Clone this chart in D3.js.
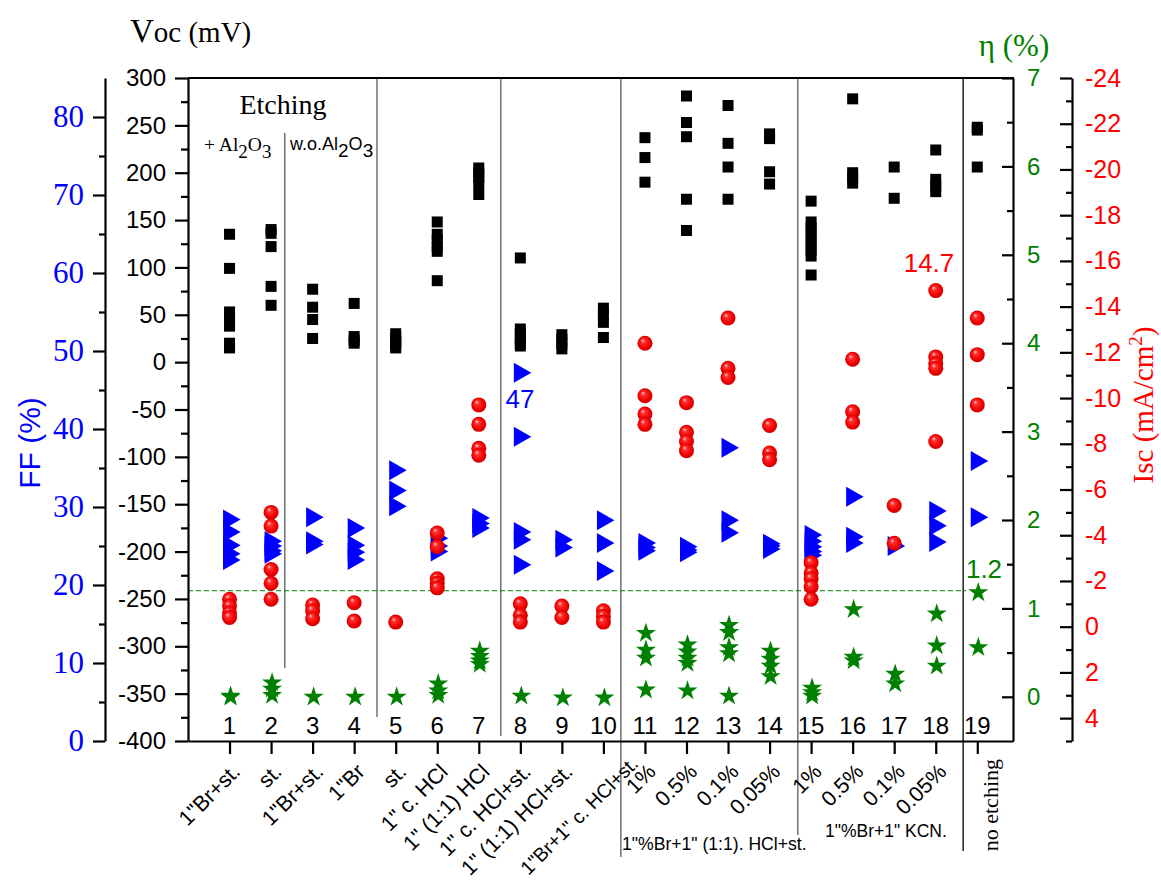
<!DOCTYPE html>
<html><head><meta charset="utf-8">
<script src="https://cdn.jsdelivr.net/npm/d3@7"></script>
<style>body{margin:0;background:#fff}</style>
</head><body><svg id="c" width="1161" height="882" xmlns="http://www.w3.org/2000/svg"></svg>
<script>
// ---------------- data ----------------
const categories = [1,2,3,4,5,6,7,8,9,10,11,12,13,14,15,16,17,18,19];
const xLabels = ['1"Br+st.','st.','1"Br+st.','1"Br','st.','1" c. HCl','1" (1:1) HCl','1" c. HCl+st.','1" (1:1) HCl+st.','1"Br+1" c. HCl+st.','1%','0.5%','0.1%','0.05%','1%','0.5%','0.1%','0.05%','no etching'];
const vocValues = [
  [135,99,53,46,38,20,15],
  [140,136,122,80,60],
  [77,58,45,25],
  [62,27,23,20],
  [30,26,22,18,15],
  [148,135,129,122,117,86],
  [205,200,195,188,177],
  [110,35,30,25,20,17],
  [29,24,19,14],
  [57,50,42,26],
  [237,216,190],
  [281,253,238,172,139],
  [271,231,206,172],
  [241,236,201,188],
  [170,148,142,136,130,124,118,112,92],
  [278,200,195,189],
  [206,173],
  [224,193,186,180],
  [248,245,206]
];
const ffValues = [
  [28.4,26.8,25.1,24.0,23.2],
  [25.6,25.0,24.4,24.0],
  [28.7,25.6,25.2],
  [27.3,25.1,24.2,23.2],
  [34.7,32.1,30.1],
  [26.0,25.0,24.3],
  [28.6,27.9,27.3],
  [47.2,39.0,26.8,25.8,22.6],
  [25.8,24.8],
  [28.3,25.4,21.8],
  [25.4,24.8,24.4],
  [24.9,24.5,24.2],
  [37.6,28.3,26.7],
  [25.3,25.0,24.6],
  [26.4,25.6,24.9,24.3,23.8],
  [31.3,26.2,25.4],
  [25.0],
  [29.5,27.6,25.5],
  [35.9,28.7]
];
const iscValues = [
  [-1.2,-0.9,-0.6,-0.4],
  [-5.0,-4.4,-2.5,-1.9,-1.2],
  [-0.95,-0.7,-0.35],
  [-1.05,-0.25],
  [-0.2],
  [-4.1,-3.5,-2.1,-1.9,-1.7],
  [-9.7,-8.85,-7.8,-7.5],
  [-1.0,-0.5,-0.2],
  [-0.9,-0.4],
  [-0.7,-0.45,-0.2],
  [-12.4,-10.1,-9.3,-8.85],
  [-9.8,-8.5,-8.1,-7.7],
  [-13.5,-11.3,-10.9],
  [-8.8,-7.6,-7.3],
  [-2.8,-2.35,-2.1,-1.75,-1.2],
  [-11.7,-9.4,-8.95],
  [-5.3,-3.65],
  [-14.7,-11.8,-11.5,-11.3,-8.1],
  [-13.5,-11.9,-9.7]
];
const etaValues = [
  [0.02,0.01],
  [0.17,0.10,0.03],
  [0.01],
  [0.01],
  [0.01],
  [0.16,0.08,0.03],
  [0.53,0.47,0.42,0.38],
  [0.02],
  [0.0],
  [0.0],
  [0.73,0.54,0.45,0.09],
  [0.60,0.52,0.45,0.39,0.08],
  [0.82,0.74,0.57,0.50,0.02],
  [0.53,0.44,0.36,0.24],
  [0.11,0.06,0.02],
  [1.0,0.46,0.42],
  [0.27,0.16],
  [0.95,0.59,0.36],
  [1.19,0.57]
];
const vocTicks = d3.range(-400, 301, 50);
const ffTicks = d3.range(0, 81, 10);
const etaTicks = d3.range(0, 8, 1);
const iscTicks = d3.range(-24, 5, 2);
const separators = [2.33, 4.55, 7.53, 10.42, 14.68, 18.66];
const etaRef = 1.2;

// ---------------- layout ----------------
const svg = d3.select('#c');
const L = 188, R = 1013, T = 78, B = 741;
const SANS = '"Liberation Sans", Arial, sans-serif';
const SERIF = '"Liberation Serif", "Times New Roman", serif';
const BLUE = '#0000ff', RED = '#ff0000', GREEN = '#008000';
const plain = d => String(d);

const x = d3.scaleLinear().domain([0, 19.86]).range([L, R]);
const yVoc = d3.scaleLinear().domain([-400, 300]).range([B, T]);
const yFF = d3.scaleLinear().domain([0, 85]).range([B, T]);
const yEta = d3.scaleLinear().domain([-0.5, 7]).range([B, T]);
const yIsc = d3.scaleLinear().domain([5, -24]).range([B, T]);

const defs = svg.append('defs');
const g = defs.append('radialGradient').attr('id','sph').attr('cx','50%').attr('cy','50%').attr('r','55%').attr('fx','35%').attr('fy','30%');
g.append('stop').attr('offset','0%').attr('stop-color','#ffd0d0');
g.append('stop').attr('offset','25%').attr('stop-color','#ff3030');
g.append('stop').attr('offset','70%').attr('stop-color','#f00000');
g.append('stop').attr('offset','100%').attr('stop-color','#c00000');

// separators
svg.append('g').selectAll('line').data(separators).join('line')
  .attr('x1', d => x(d)).attr('x2', d => x(d))
  .attr('y1', (d,i) => [133, T, T, T, T, T][i])
  .attr('y2', (d,i) => [668, 717, 736, 857, 835, 851][i])
  .attr('stroke', (d,i) => i === 5 ? '#111' : '#666').attr('stroke-width', 1.4);

// dashed ref line
svg.append('line').attr('x1', L).attr('x2', 966).attr('y1', yEta(etaRef)).attr('y2', yEta(etaRef))
  .attr('stroke', GREEN).attr('stroke-width', 1).attr('stroke-dasharray', '5,3');

function styleAxis(sel, color){
  sel.selectAll('path,line').attr('stroke', '#000').attr('stroke-width', 2.2);
  sel.selectAll('text').attr('fill', color);
}

// Voc axis
const aV = svg.append('g').attr('transform', `translate(${L},0)`)
  .call(d3.axisLeft(yVoc).tickValues(vocTicks).tickFormat(plain).tickSize(13).tickSizeOuter(0).tickPadding(9));
aV.selectAll('text').attr('font-family', SANS).attr('font-size', 24);
styleAxis(aV, '#000');
const aVm = svg.append('g').attr('transform', `translate(${L},0)`)
  .call(d3.axisLeft(yVoc).tickValues(d3.range(-375, 300, 50)).tickSize(7).tickFormat(''));
aVm.select('.domain').remove(); styleAxis(aVm, '#000');

// FF axis
const aF = svg.append('g').attr('transform', `translate(105,0)`)
  .call(d3.axisLeft(yFF).tickValues(ffTicks).tickFormat(plain).tickSize(12).tickSizeOuter(0).tickPadding(9));
aF.selectAll('text').attr('font-family', SERIF).attr('font-size', 31);
styleAxis(aF, BLUE);
const aFm = svg.append('g').attr('transform', `translate(105,0)`)
  .call(d3.axisLeft(yFF).tickValues(d3.range(5, 80, 10)).tickSize(6).tickFormat(''));
aFm.select('.domain').remove(); styleAxis(aFm, '#000');

// eta axis (right frame)
const aE = svg.append('g').attr('transform', `translate(${R},0)`)
  .call(d3.axisRight(yEta).tickValues(etaTicks).tickFormat(plain).tickSize(-11).tickSizeOuter(0).tickPadding(14));
aE.selectAll('text').attr('font-family', SANS).attr('font-size', 24);
styleAxis(aE, GREEN);
const aEm = svg.append('g').attr('transform', `translate(${R},0)`)
  .call(d3.axisRight(yEta).tickValues(d3.range(0.5, 7, 1)).tickSize(-6).tickFormat(''));
aEm.select('.domain').remove(); styleAxis(aEm, '#000');

// Isc axis
const aI = svg.append('g').attr('transform', `translate(1072,0)`)
  .call(d3.axisRight(yIsc).tickValues(iscTicks).tickFormat(plain).tickSize(-12).tickSizeOuter(0).tickPadding(13));
aI.selectAll('text').attr('font-family', SANS).attr('font-size', 25);
styleAxis(aI, RED);
const aIm = svg.append('g').attr('transform', `translate(1072,0)`)
  .call(d3.axisRight(yIsc).tickValues(d3.range(-23, 6, 2)).tickSize(-6).tickFormat(''));
aIm.select('.domain').remove(); styleAxis(aIm, '#000');

// bottom axis + top line
const aX = svg.append('g').attr('transform', `translate(0,${B})`)
  .call(d3.axisBottom(x).tickValues(categories).tickSize(13).tickSizeOuter(0).tickFormat(''));
styleAxis(aX, '#000');
svg.append('line').attr('x1', L).attr('x2', R + 1).attr('y1', T).attr('y2', T).attr('stroke', '#000').attr('stroke-width', 2.2);

// category numbers inside plot
svg.append('g').selectAll('text').data(categories).join('text')
  .attr('x', d => x(d)).attr('y', 734).attr('text-anchor', 'middle')
  .attr('font-family', SANS).attr('font-size', 24).attr('fill', '#000').text(d => d);

// rotated labels
svg.append('g').selectAll('text').data(xLabels.slice(0, 18)).join('text')
  .attr('transform', (d,i) => `translate(${x(categories[i]) + 12 + (i === 9 ? 24 : 0)},${773 + (i === 9 ? -8 : 0)}) rotate(-45)`)
  .attr('text-anchor', 'end').attr('font-family', SANS).attr('font-size', (d,i) => i === 9 ? 19.5 : 21.5).attr('fill', '#000')
  .text(d => d);
svg.append('text').attr('transform', `translate(${x(19) + 21},759) rotate(-90)`)
  .attr('text-anchor', 'end').attr('font-family', SERIF).attr('font-size', 22).text(xLabels[18]);

// group captions
svg.append('text').attr('x', 622).attr('y', 850).attr('font-family', SANS).attr('font-size', 17.6).text('1"%Br+1" (1:1). HCl+st.');
svg.append('text').attr('x', 825).attr('y', 837).attr('font-family', SANS).attr('font-size', 17.5).text('1"%Br+1" KCN.');

// marks
const sq = svg.append('g');
vocValues.forEach((arr, i) => {
  sq.selectAll(null).data(arr).join('rect')
    .attr('x', d => x(categories[i]) - 5.5).attr('y', d => yVoc(d) - 5.5)
    .attr('width', 11).attr('height', 11).attr('fill', '#000');
});
const tri = svg.append('g');
ffValues.forEach((arr, i) => {
  tri.selectAll(null).data(arr).join('path')
    .attr('d', 'M-7.5,-10L-7.5,10L10,0Z')
    .attr('transform', d => `translate(${x(categories[i]) + 1},${yFF(d)})`)
    .attr('fill', BLUE);
});
const sph = svg.append('g');
iscValues.forEach((arr, i) => {
  sph.selectAll(null).data(arr).join('circle')
    .attr('cx', x(categories[i])).attr('cy', d => yIsc(d)).attr('r', 7.5)
    .attr('fill', 'url(#sph)');
});
const star = d3.symbol(d3.symbolStar, 125);
const st = svg.append('g');
etaValues.forEach((arr, i) => {
  st.selectAll(null).data(arr).join('path')
    .attr('d', star).attr('transform', d => `translate(${x(categories[i]) + 1},${yEta(d) + 1})`)
    .attr('fill', GREEN);
});

// annotations
svg.append('text').attr('x', 520).attr('y', 408).attr('text-anchor', 'middle').attr('font-family', SANS).attr('font-size', 26).attr('fill', BLUE).text('47');
svg.append('text').attr('x', 929).attr('y', 272).attr('text-anchor', 'middle').attr('font-family', SANS).attr('font-size', 26).attr('fill', RED).text('14.7');
svg.append('text').attr('x', 984).attr('y', 578).attr('text-anchor', 'middle').attr('font-family', SANS).attr('font-size', 26).attr('fill', GREEN).text('1.2');

// inner titles
svg.append('text').attr('x', 283).attr('y', 114).attr('text-anchor', 'middle').attr('font-family', SERIF).attr('font-size', 28).text('Etching');
const t1 = svg.append('text').attr('x', 204).attr('y', 151).attr('font-family', SERIF).attr('font-size', 19.5);
t1.append('tspan').text('+ Al');
t1.append('tspan').attr('dy', 7).attr('font-size', 19).text('2');
t1.append('tspan').attr('dy', -7).text('O');
t1.append('tspan').attr('dy', 7).attr('font-size', 19).text('3');
const t2 = svg.append('text').attr('x', 290).attr('y', 150).attr('font-family', SANS).attr('font-size', 18);
t2.append('tspan').text('w.o.Al');
t2.append('tspan').attr('dy', 7).attr('font-size', 19).text('2');
t2.append('tspan').attr('dy', -7).text('O');
t2.append('tspan').attr('dy', 7).attr('font-size', 19).text('3');

// axis titles
const tv = svg.append('text').attr('x', 130).attr('y', 42).attr('font-family', SERIF).attr('font-size', 29);
tv.append('tspan').attr('font-size', 33).text('V');
tv.append('tspan').text('oc (mV)');
svg.append('text').attr('transform', 'translate(40,443) rotate(-90)').attr('text-anchor', 'middle')
  .attr('font-family', SANS).attr('font-size', 30).attr('fill', BLUE).text('FF (%)');
svg.append('text').attr('x', 1014).attr('y', 56).attr('text-anchor', 'middle').attr('font-family', SERIF).attr('font-size', 31).attr('fill', GREEN).text('η (%)');
const ti = svg.append('text').attr('transform', 'translate(1153,405) rotate(-90)').attr('text-anchor', 'middle')
  .attr('font-family', SERIF).attr('font-size', 29).attr('fill', RED);
ti.append('tspan').text('Isc (mA/cm');
ti.append('tspan').attr('dy', -11).attr('font-size', 19).text('2');
ti.append('tspan').attr('dy', 11).text(')');
</script>
</body></html>
